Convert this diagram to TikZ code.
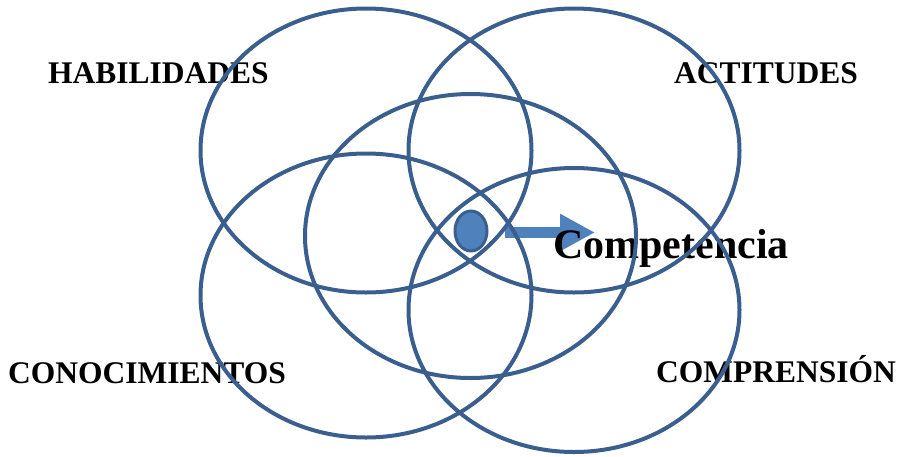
\documentclass[tikz,border=0pt]{standalone}
\usepackage{fontspec}
\setmainfont{Liberation Serif}
\usepackage{xcolor}
\usetikzlibrary{shapes.geometric, arrows.meta}
\definecolor{ringblue}{HTML}{3A5F8F}
\definecolor{dotblue}{HTML}{4F81BD}

\begin{document}
\begin{tikzpicture}[
      x=1pt, y=-1pt,
      ring/.style={draw=ringblue, line width=4pt, ellipse, inner sep=0pt,
                   minimum width=331pt, minimum height=284pt},
      lbl/.style={anchor=base west, inner sep=0pt,
                  font=\fontsize{31.5}{36}\selectfont\bfseries},
      arr/.style={-{Triangle[length=35pt, width=35pt]}, line width=11pt, dotblue},
    ]
    \useasboundingbox (0,0) rectangle (900,456);
    % arrow towards the word
    \coordinate (tip) at (595,232.5);
    \coordinate (tail) at (505,232.5);
    \draw[arr] (tail) -- (tip);
    % labels
    \node[lbl] (hab) at (48,83) {HABILIDADES};
    \node[lbl] (act) at (674,83) {ACTITUDES};
    \node[lbl] (con) at (8,383) {CONOCIMIENTOS};
    \node[lbl] (com) at (656,382) {COMPRENSIÓN};
    \node[lbl, font=\fontsize{42}{48}\selectfont\bfseries] (comp) at (553,258) {Competencia};
    % rings
    \node[ring] (r-hab) at (366,150.5) {};
    \node[ring] (r-act) at (574,150.5) {};
    \node[ring] (r-mid) at (470.5,236) {};
    \node[ring] (r-con) at (366,295.5) {};
    \node[ring] (r-com) at (574,310) {};
    % centre dot
    \node[ellipse, draw=ringblue, fill=dotblue, line width=3pt, inner sep=0pt,
          minimum width=32pt, minimum height=40pt] (dot) at (471,231) {};
  \end{tikzpicture}
\end{document}
